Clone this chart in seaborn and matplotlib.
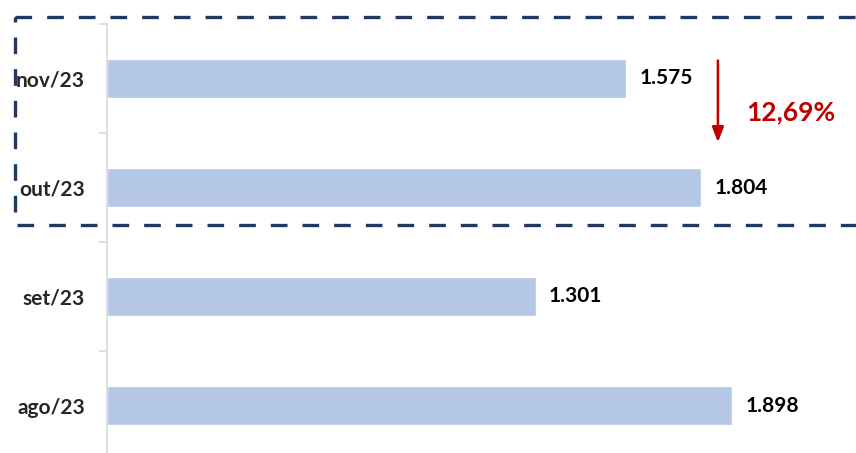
import matplotlib
matplotlib.use("Agg")
import matplotlib.pyplot as plt
import seaborn as sns
import pandas as pd
from matplotlib.patches import Rectangle

# data
months = ["nov/23", "out/23", "set/23", "ago/23"]
totals = [1575, 1804, 1301, 1898]
labels = ["1.575", "1.804", "1.301", "1.898"]
change_txt = "12,69%"

df = pd.DataFrame({"mes": months, "total": totals})

sns.set_style("white")
plt.rcParams["font.family"] = ["Lato", "DejaVu Sans"]

fig = plt.figure(figsize=(8.56, 4.53), dpi=100)
ax = fig.add_axes([107 / 856, -7 / 453, 1 - 107 / 856, 436 / 453])

sns.barplot(data=df, x="total", y="mes", color="#B4C7E7", width=0.35,
            saturation=1, ax=ax, orient="h")

ax.set_xlim(0, 2273)
ax.set_ylim(3.5, -0.5)
ax.set_xlabel("")
ax.set_ylabel("")
ax.set_xticks([])

for s in ["top", "right", "bottom"]:
    ax.spines[s].set_visible(False)
ax.spines["left"].set_color("#D9D9D9")
ax.spines["left"].set_linewidth(1.2)

ax.set_yticks([-0.5, 0.5, 1.5, 2.5], minor=True)
ax.tick_params(axis="y", which="minor", length=6, color="#D9D9D9", width=1.2, left=True)
ax.tick_params(axis="y", which="major", length=0, pad=16)
for t in ax.get_yticklabels():
    t.set_fontsize(15)
    t.set_fontweight("bold")

# value labels
for i, (v, lab) in enumerate(zip(totals, labels)):
    ax.text(v + 40, i, lab, va="center", ha="left", fontsize=15, fontweight="bold", color="black")

# arrow + percentage
ax.annotate("", xy=(1854, 0.61), xytext=(1854, -0.19),
            arrowprops=dict(arrowstyle="-|>,head_width=0.35,head_length=0.9",
                            color="#C00000", lw=1.8), annotation_clip=False)
ax.text(1939, 0.31, change_txt, va="center", ha="left", fontsize=19,
        fontweight="bold", color="#C00000")

# dashed highlight box
box = Rectangle((-279, -0.564), 2700, 1.908, fill=False, edgecolor="#1F3864",
                linewidth=2.4, linestyle=(0, (5, 4.5)), clip_on=False)
ax.add_patch(box)

fig.savefig("out.png", dpi=100)
